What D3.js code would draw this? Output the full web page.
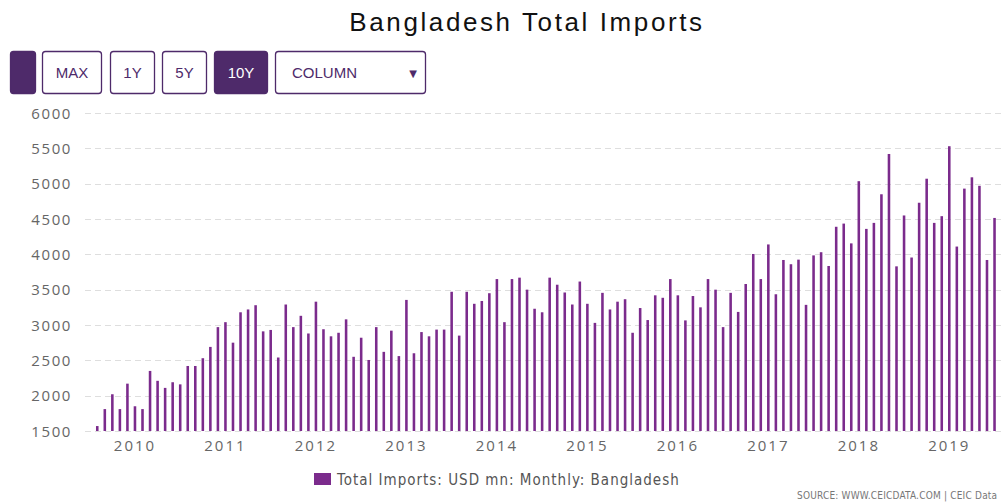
<!DOCTYPE html>
<html><head><meta charset="utf-8">
<script src="https://cdn.jsdelivr.net/npm/d3@7"></script>
<style>
body{margin:0;background:#fff;overflow:hidden}
svg{display:block}
</style></head>
<body>
<svg id="c" width="1005" height="504"></svg>
<script>
const startYear = 2009, startMonth = 8; // Aug 2009
const values = [
1570,1810,2020,1810,2170,
1850,1810,2350,2210,2110,2190,2160,2420,2420,2530,2690,2970,
3040,2750,3180,3220,3280,2910,2930,2540,3290,2970,3130,2880,
3330,2940,2840,2890,3080,2550,2820,2505,2970,2620,2920,2560,
3355,2600,2900,2840,2935,2935,3470,2850,3470,3300,3340,3450,
3650,3040,3650,3670,3500,3230,3180,3670,3570,3460,3290,3615,
3300,3030,3455,3220,3330,3365,2890,3240,3070,3420,3385,3650,
3420,3065,3410,3250,3650,3500,2970,3455,3185,3580,4005,3650,
4140,3435,3920,3860,3925,3285,3985,4030,3835,4390,4435,4155,
5035,4360,4445,4850,5420,3830,4550,3955,4730,5070,4445,4540,
5530,4110,4930,5090,4970,3920,4515
];
const months = values.map((v,i)=>{const m=startMonth-1+i;return {year:startYear+Math.floor(m/12),month:m%12+1};});
const keys = months.map(d=>d.year+"-"+d.month);
const yTicks = [1500,2000,2500,3000,3500,4000,4500,5000,5500,6000];
const yearLabels = ["2010","2011","2012","2013","2014","2015","2016","2017","2018","2019"];
const buttons = ["","MAX","1Y","5Y","10Y"];
const titleText = "Bangladesh Total Imports";
const legendText = "Total Imports: USD mn: Monthly: Bangladesh";
const sourceText = "SOURCE: WWW.CEICDATA.COM | CEIC Data";

const svg = d3.select("#c");
const barColor = "#7b2b8c", dark = "#4e2a6a";
const axFont = "'Open Sans', 'DejaVu Sans', sans-serif";

svg.append("text").attr("x",527).attr("y",31).attr("text-anchor","middle")
  .attr("font-family","'Liberation Sans', Arial, sans-serif").attr("font-size",26).attr("letter-spacing",2.6)
  .attr("fill","#111").text(titleText);

// buttons
const bx = [10,42,110,162,214], bw = [25,59,44,44,53];
buttons.forEach((b,i)=>{
  const filled = (i===0||i===4);
  svg.append("rect").attr("x",bx[i]+0.5).attr("y",51.5).attr("width",bw[i]).attr("height",42).attr("rx",3)
    .attr("fill",filled?dark:"#fff").attr("stroke",dark).attr("stroke-width",1.3);
  if(b) svg.append("text").attr("x",bx[i]+bw[i]/2+0.5).attr("y",78).attr("text-anchor","middle")
    .attr("font-family","'Liberation Sans', Arial, sans-serif").attr("font-size",15).attr("fill",filled?"#fff":dark).text(b);
});
svg.append("rect").attr("x",275.5).attr("y",51.5).attr("width",150).attr("height",42).attr("rx",3)
  .attr("fill","#fff").attr("stroke",dark).attr("stroke-width",1.3);
svg.append("text").attr("x",292).attr("y",78).attr("font-family","'Liberation Sans', Arial, sans-serif")
  .attr("font-size",15).attr("fill",dark).text("COLUMN");
svg.append("text").attr("x",413).attr("y",77).attr("text-anchor","middle").attr("font-family","'DejaVu Sans', sans-serif")
  .attr("font-size",10).attr("fill",dark).text("▼");

const y = d3.scaleLinear().domain([1500,6000]).range([431,113]);
const x = d3.scaleBand().domain(keys).range([93.5,998.3]).paddingInner(0.66).paddingOuter(0.33);

// grid
const grid = svg.append("g").attr("transform","translate(85,0)")
  .call(d3.axisLeft(y).tickValues(yTicks).tickSize(-920).tickFormat(""));
grid.select(".domain").remove();
grid.selectAll("line").attr("stroke","#dedede").attr("stroke-dasharray","6,4").attr("shape-rendering","crispEdges");

// y labels
const yl = svg.append("g").attr("transform","translate(72,0)")
  .call(d3.axisLeft(y).tickValues(yTicks).tickSize(0).tickPadding(0).tickFormat(d3.format("d")));
yl.select(".domain").remove();
yl.selectAll("text").attr("font-family",axFont).attr("font-size",15).attr("fill","#666").attr("dy","0.35em").attr("letter-spacing",1.6);

// bars
svg.append("g").selectAll("rect").data(values).join("rect")
  .attr("x",(d,i)=>x(keys[i])).attr("width",x.bandwidth())
  .attr("y",d=>y(d)).attr("height",d=>y(1500)-y(d)).attr("fill",barColor);

// x labels
const janKeys = yearLabels.map(yr=>yr+"-1");
const xa = svg.append("g").attr("transform","translate(0,440)")
  .call(d3.axisBottom(x).tickValues(janKeys).tickSize(0).tickPadding(0).tickFormat(k=>k.split("-")[0]));
xa.select(".domain").remove();
xa.selectAll("text").attr("font-family",axFont).attr("font-size",15).attr("fill","#666").attr("dy","0.71em").attr("letter-spacing",2);

// legend
svg.append("rect").attr("x",314).attr("y",473).attr("width",17).attr("height",12).attr("fill",barColor);
svg.append("text").attr("x",337).attr("y",485).attr("font-family","'Liberation Sans Narrow', 'DejaVu Sans Condensed', sans-serif")
  .attr("font-size",15).attr("letter-spacing",1).attr("fill","#555").text(legendText);
svg.append("text").attr("x",797).attr("y",499).attr("font-family","'DejaVu Sans Condensed', 'Liberation Sans Narrow', sans-serif")
  .attr("font-size",10).attr("letter-spacing",0.2).attr("fill","#777").text(sourceText);
</script>
</body></html>
